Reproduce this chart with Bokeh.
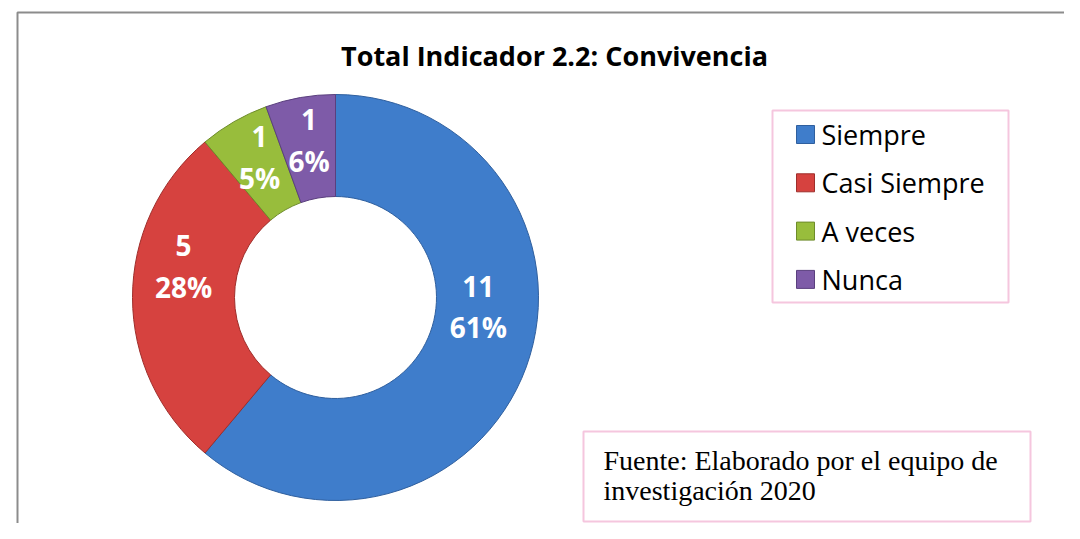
import math
from bokeh.plotting import figure
from bokeh.models import Range1d
from bokeh.core.properties import value
from bokeh.embed import file_html
from bokeh.resources import INLINE

# ---- data ----
categories = ["Siempre", "Casi Siempre", "A veces", "Nunca"]
counts = [11, 5, 1, 1]
percents = [61, 28, 5, 6]
colors = ["#3F7DCB", "#D6423F", "#98BD3C", "#7E5BA8"]
edge_colors = ["#2F5F9E", "#9E2E2B", "#6E8C2A", "#5A3F7E"]
title_text = "Total Indicador 2.2: Convivencia"
source_lines = ["Fuente: Elaborado por el equipo de", "investigación 2020"]

W, H = 1064, 523
p = figure(width=W, height=H, output_backend="svg", toolbar_location=None,
           x_range=Range1d(0, W), y_range=Range1d(0, H), min_border=0)
p.axis.visible = False
p.grid.visible = False
p.outline_line_color = None
p.background_fill_color = "white"
p.border_fill_color = "white"

def X(sx):
    return sx

def Y(sy):
    return H - sy

# outer chart frame
p.line([X(17), X(17), W + 5], [-5, Y(12), Y(12)], line_color="#8C8C8C", line_width=2)

# title
p.text([X(554)], [Y(55)], text=[title_text], text_align="center", text_baseline="middle",
       text_font=value("Open Sans"), text_font_style="bold", text_font_size="27px",
       text_color="black")

# donut
cx, cy = X(335), Y(297)
r_in, r_out = 101, 203
total = sum(counts)
starts, ends, mids = [], [], []
cum = 0
for c in counts:
    a0 = math.pi / 2 - 2 * math.pi * (cum + c) / total
    a1 = math.pi / 2 - 2 * math.pi * cum / total
    starts.append(a0)
    ends.append(a1)
    mids.append((a0 + a1) / 2)
    cum += c

p.annular_wedge(x=[cx] * len(counts), y=[cy] * len(counts), inner_radius=r_in, outer_radius=r_out,
                start_angle=starts, end_angle=ends, fill_color=colors,
                line_color=edge_colors, line_width=1)

# labels
r_lab = (r_in + r_out) / 2
label_dy = [42, 31, 8, 7]  # visual nudge (screen px)
lx = [cx + r_lab * math.cos(m) for m in mids]
ly = [cy + r_lab * math.sin(m) + d for m, d in zip(mids, label_dy)]
p.text(lx, ly, text=[str(c) for c in counts], text_align="center", text_baseline="middle",
       y_offset=-21, text_font=value("Open Sans"), text_font_style="bold",
       text_font_size="28px", text_color="white")
p.text(lx, ly, text=[f"{v}%" for v in percents], text_align="center", text_baseline="middle",
       y_offset=20, text_font=value("Open Sans"), text_font_style="bold",
       text_font_size="28px", text_color="white")

# legend box
p.quad(left=[X(772)], right=[X(1008)], top=[Y(110)], bottom=[Y(302)],
       fill_color="white", line_color="#F5C6DE", line_width=2)
leg_y = [Y(134 + 48.3 * i) for i in range(len(categories))]
p.scatter([X(805)] * len(categories), leg_y, marker="square", size=18,
          fill_color=colors, line_color=edge_colors, line_width=1)
p.text([X(821)] * len(categories), leg_y, text=categories, text_align="left",
       text_baseline="middle", text_font=value("Open Sans"), text_font_size="27px",
       text_color="black")

# source box
p.quad(left=[X(583)], right=[X(1030)], top=[Y(431)], bottom=[Y(521)],
       fill_color="white", line_color="#F5C6DE", line_width=2)
p.text([X(603)] * 2, [Y(460), Y(490)], text=source_lines, text_align="left",
       text_baseline="middle", text_font=value("Liberation Serif"), text_font_size="28px",
       text_color="black")

open("out.html", "w").write(file_html(p, INLINE))
